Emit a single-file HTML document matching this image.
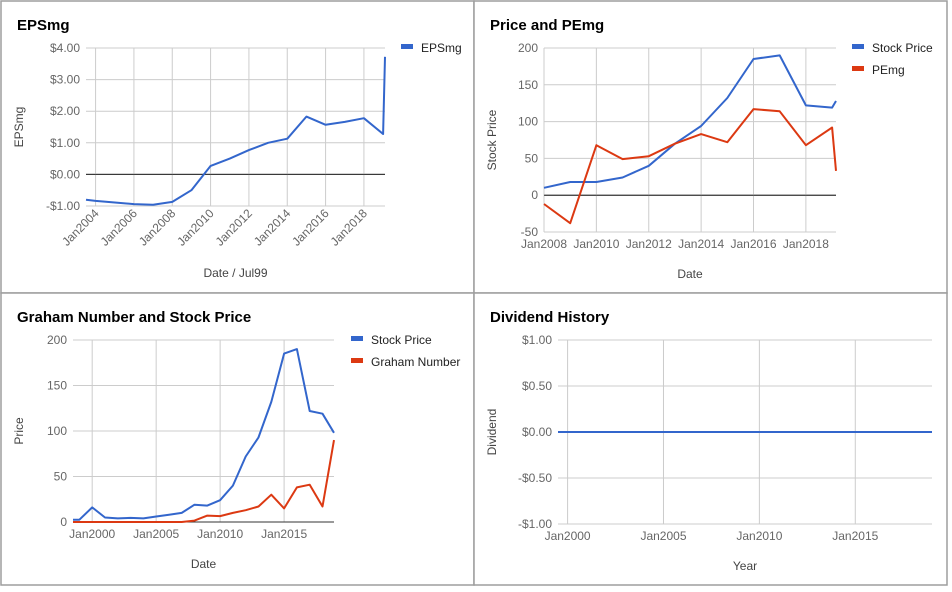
<!DOCTYPE html>
<html><head><meta charset="utf-8"><style>
body{margin:0;background:#fff;width:952px;height:592px;overflow:hidden}
svg{display:block;font-family:"Liberation Sans",Arial,sans-serif}
</style></head><body>
<svg id="root" width="952" height="592"></svg>
<script>
// EPSmg chart data
const epsYears=[2003.5,2004,2005,2006,2007,2008,2009,2010,2011,2012,2013,2014,2015,2016,2017,2018,2019,2019.1];
const epsValues=[-0.8,-0.84,-0.89,-0.94,-0.96,-0.87,-0.5,0.27,0.5,0.77,1.0,1.13,1.83,1.57,1.66,1.78,1.28,3.72];
const epsYTicks=[4,3,2,1,0,-1];
const epsYLabels=["$4.00","$3.00","$2.00","$1.00","$0.00","-$1.00"];
const epsXTicks=[2004,2006,2008,2010,2012,2014,2016,2018];
// Price and PEmg data
const pePriceYears=[2008,2009,2010,2011,2012,2013,2014,2015,2016,2017,2018,2019,2019.15];
const pePriceValues=[10,18,18,24,40,70,94,132,185,190,122,119,128];
const pePEValues=[-12,-38,68,49,53,70,83,72,117,114,68,92,33];
const peYTicks=[200,150,100,50,0,-50];
const peXTicks=[2008,2010,2012,2014,2016,2018];
// Graham chart data
const grYears=[1998.5,1999,2000,2001,2002,2003,2004,2005,2006,2007,2008,2009,2010,2011,2012,2013,2014,2015,2016,2017,2018,2018.9];
const grPrice=[2.5,2.5,16,5,4,4.5,4,6,8,10,19,18,24,40,72,93,132,185,190,122,119,98];
const grGraham=[0,0,0,0,0,0,0,0,0,0,1.5,7,6.5,10,13,17,30,15,38,41,17,90];
const grYTicks=[200,150,100,50,0];
const grXTicks=[2000,2005,2010,2015];
// Dividend data
const divYears=[1999.5,2002,2005,2008,2011,2014,2017,2019];
const divValues=[0,0,0,0,0,0,0,0];
const divYTicks=[1,0.5,0,-0.5,-1];
const divYLabels=["$1.00","$0.50","$0.00","-$0.50","-$1.00"];
const divXTicks=[2000,2005,2010,2015];

const NS="http://www.w3.org/2000/svg";
const root=document.getElementById('root');
function mk(tag,attrs,parent,name,text){
  const e=document.createElementNS(NS,tag);
  for(const k in attrs)e.setAttribute(k,attrs[k]);
  
  
  if(text!==undefined)e.textContent=text;
  (parent||root).appendChild(e);return e;
}
function chart(c){
  const g=mk('g',{},root,c.name);
  const sx=v=>c.x0+(v-c.xMin)/(c.xMax-c.xMin)*(c.x1-c.x0);
  const sy=v=>c.y1-(v-c.yMin)/(c.yMax-c.yMin)*(c.y1-c.y0);
  mk('rect',{x:c.bx,y:c.by,width:c.bw,height:c.bh,fill:'#fff',stroke:'#9e9e9e','stroke-width':1.5},g,'panel-border');
  mk('text',{x:c.bx+16,y:c.by+29,'font-size':15,'font-weight':'bold',fill:'#000'},g,'chart-title',c.title);
  c.yTicks.forEach((t,i)=>{
    const y=sy(t);
    mk('line',{x1:c.x0,x2:c.x1,y1:y,y2:y,stroke:t===0?'#333':'#ccc','stroke-width':1},g,t===0?'zero-baseline':'y-gridline');
    mk('text',{x:c.x0-6,y:y+4,'font-size':12,fill:'#666','text-anchor':'end'},g,'y-tick-label',c.yLabels?c.yLabels[i]:String(t));
  });
  c.xTicks.forEach(t=>{
    const x=sx(t);
    mk('line',{x1:x,x2:x,y1:c.y0,y2:c.y1,stroke:'#ccc','stroke-width':1},g,'x-gridline');
    if(c.rot){
      mk('text',{x:x+4,y:c.y1+8,'font-size':12,fill:'#666','text-anchor':'end',transform:`rotate(-45 ${x+4} ${c.y1+8})`},g,'x-tick-label','Jan'+t);
    }else{
      mk('text',{x:x,y:c.y1+16,'font-size':12,fill:'#666','text-anchor':'middle'},g,'x-tick-label','Jan'+t);
    }
  });
  // redraw zero baseline on top of gridlines
  if(c.yMin<0) mk('line',{x1:c.x0,x2:c.x1,y1:sy(0),y2:sy(0),stroke:'#333','stroke-width':1},g,'zero-axis');
  else mk('line',{x1:c.x0,x2:c.x1,y1:sy(0),y2:sy(0),stroke:'#333','stroke-width':1},g,'x-axis-line');
  mk('text',{x:(c.x0+c.x1)/2,y:c.xtY,'font-size':12,fill:'#444','text-anchor':'middle'},g,'x-axis-title',c.xTitle);
  const ytx=c.bx+22,yty=(c.y0+c.y1)/2;
  mk('text',{x:ytx,y:yty,'font-size':12,fill:'#444','text-anchor':'middle',transform:`rotate(-90 ${ytx} ${yty})`},g,'y-axis-title',c.yTitle);
  c.series.forEach((s,si)=>{
    const d=s.xs.map((v,i)=>(i?'L':'M')+sx(v).toFixed(1)+','+sy(s.ys[i]).toFixed(1)).join(' ');
    mk('path',{d:d,fill:'none',stroke:s.color,'stroke-width':2,'stroke-linejoin':'round'},g,s.name+'-line');
    if(c.legX!==undefined){
      const ly=c.legY+si*22;
      mk('rect',{x:c.legX,y:ly-4,width:12,height:5,fill:s.color},g,'legend-swatch');
      mk('text',{x:c.legX+20,y:ly+4,'font-size':12,fill:'#222'},g,'legend-label',s.label);
    }
  });
}
chart({name:'epsmg-chart',bx:1,by:1,bw:473,bh:292,title:'EPSmg',x0:86,x1:385,y0:48,y1:206,
  xMin:2003.5,xMax:2019.1,yMin:-1,yMax:4,yTicks:epsYTicks,yLabels:epsYLabels,xTicks:epsXTicks,rot:true,
  xTitle:'Date / Jul99',xtY:277,yTitle:'EPSmg',legX:401,legY:48,
  series:[{name:'epsmg',label:'EPSmg',color:'#3366cc',xs:epsYears,ys:epsValues}]});
chart({name:'price-pemg-chart',bx:474,by:1,bw:473,bh:292,title:'Price and PEmg',x0:544,x1:836,y0:48,y1:232,
  xMin:2008,xMax:2019.15,yMin:-50,yMax:200,yTicks:peYTicks,xTicks:peXTicks,
  xTitle:'Date',xtY:278,yTitle:'Stock Price',legX:852,legY:48,
  series:[{name:'stock-price',label:'Stock Price',color:'#3366cc',xs:pePriceYears,ys:pePriceValues},
          {name:'pemg',label:'PEmg',color:'#dc3912',xs:pePriceYears,ys:pePEValues}]});
chart({name:'graham-chart',bx:1,by:293,bw:473,bh:292,title:'Graham Number and Stock Price',x0:73,x1:334,y0:340,y1:522,
  xMin:1998.5,xMax:2018.9,yMin:0,yMax:200,yTicks:grYTicks,xTicks:grXTicks,
  xTitle:'Date',xtY:568,yTitle:'Price',legX:351,legY:340,
  series:[{name:'stock-price',label:'Stock Price',color:'#3366cc',xs:grYears,ys:grPrice},
          {name:'graham-number',label:'Graham Number',color:'#dc3912',xs:grYears,ys:grGraham}]});
chart({name:'dividend-chart',bx:474,by:293,bw:473,bh:292,title:'Dividend History',x0:558,x1:932,y0:340,y1:524,
  xMin:1999.5,xMax:2019,yMin:-1,yMax:1,yTicks:divYTicks,yLabels:divYLabels,xTicks:divXTicks,
  xTitle:'Year',xtY:570,yTitle:'Dividend',
  series:[{name:'dividend',label:'Dividend',color:'#3366cc',xs:divYears,ys:divValues}]});
</script>
</body></html>
